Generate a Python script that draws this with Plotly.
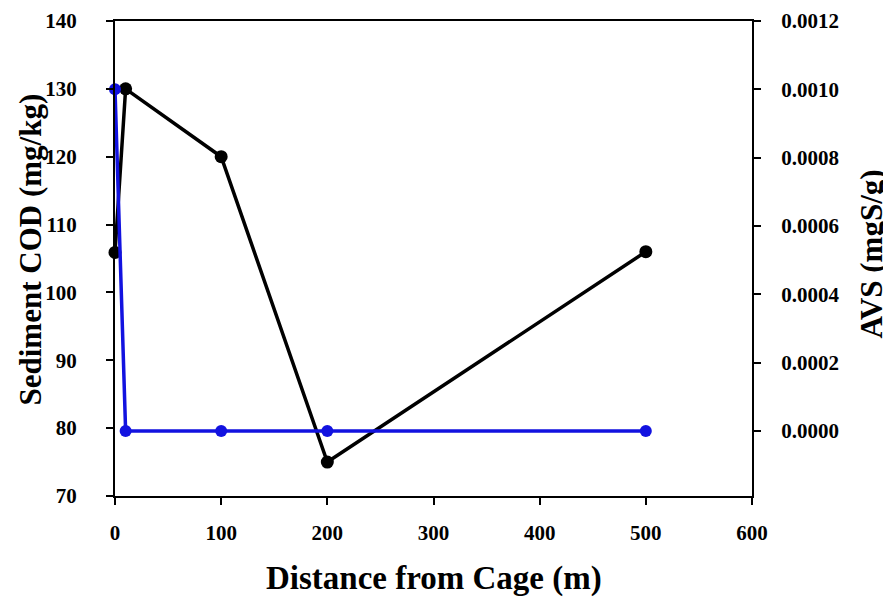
import plotly.graph_objects as go

distance = [0, 10, 100, 200, 500]
cod = [105.9, 130.0, 120.0, 75.0, 106.0]
avs = [0.0010, 0.0, 0.0, 0.0, 0.0]

x_ticks = [0, 100, 200, 300, 400, 500, 600]
cod_ticks = [70, 80, 90, 100, 110, 120, 130, 140]
avs_ticks = [0.0, 0.0002, 0.0004, 0.0006, 0.0008, 0.0010, 0.0012]

FONT = "Liberation Serif"
tick_font = dict(family=FONT, size=21, color="black", weight="bold")
title_font = dict(family=FONT, size=31, color="black", weight="bold")
xtitle_font = dict(family=FONT, size=33, color="black", weight="bold")

fig = go.Figure()

fig.add_trace(go.Scatter(
    x=distance, y=cod, mode="lines+markers",
    line=dict(color="black", width=3.5),
    marker=dict(color="black", size=13),
    cliponaxis=False, name="COD"
))
fig.add_trace(go.Scatter(
    x=distance, y=avs, mode="lines+markers", yaxis="y2",
    line=dict(color="#1212e0", width=3.5),
    marker=dict(color="#1212e0", size=12),
    cliponaxis=False, name="AVS"
))

# page body adds ~8px offset, so margins are shifted to compensate
fig.update_layout(
    width=891, height=597,
    margin=dict(l=107, r=147, t=13, b=109),
    paper_bgcolor="white", plot_bgcolor="white",
    showlegend=False,
    xaxis=dict(
        range=[0, 600], tickvals=x_ticks, ticks="outside", ticklen=7, tickwidth=2,
        tickcolor="black", showline=True, linecolor="black", linewidth=2,
        mirror=True, showgrid=False, zeroline=False, tickfont=tick_font,
        ticklabelstandoff=10, automargin=False
    ),
    yaxis=dict(
        range=[70, 140], tickvals=cod_ticks, ticks="outside", ticklen=7, tickwidth=2,
        tickcolor="black", showline=True, linecolor="black", linewidth=2,
        showgrid=False, zeroline=False, tickfont=tick_font, ticklabelstandoff=25,
        automargin=False
    ),
    yaxis2=dict(
        overlaying="y", side="right",
        range=[-0.00019, 0.0012], tickvals=avs_ticks, tickformat=".4f",
        ticks="outside", ticklen=7, tickwidth=2, tickcolor="black",
        showline=True, linecolor="black", linewidth=2,
        showgrid=False, zeroline=False, tickfont=tick_font, ticklabelstandoff=16,
        automargin=False
    ),
    annotations=[
        dict(text="Sediment COD (mg/kg)", xref="paper", yref="paper", x=0, y=0.5,
             xanchor="center", yanchor="middle", xshift=-85, yshift=9,
             textangle=-90, showarrow=False, font=title_font),
        dict(text="AVS (mgS/g)", xref="paper", yref="paper", x=1, y=0.5,
             xanchor="center", yanchor="middle", xshift=119, yshift=4,
             textangle=-90, showarrow=False, font=title_font),
        dict(text="Distance from Cage (m)", xref="paper", yref="paper", x=0.5, y=0,
             xanchor="center", yanchor="middle", yshift=-82,
             showarrow=False, font=xtitle_font),
    ],
)

fig.write_html("out.html")
